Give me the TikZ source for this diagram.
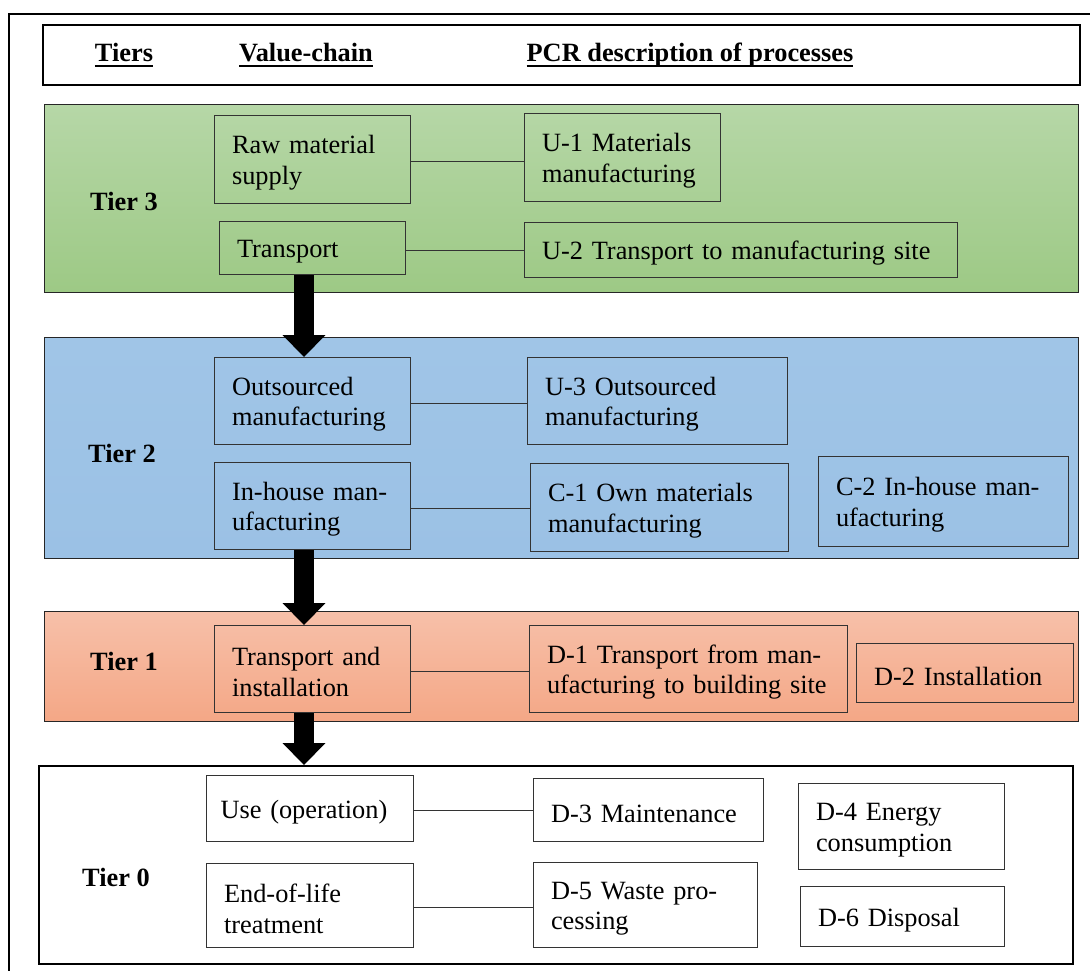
\documentclass[tikz,border=0pt]{standalone}
\usepackage{fontspec}
\setmainfont{Liberation Serif}
\usetikzlibrary{arrows.meta,positioning}

\definecolor{greentop}{RGB}{182,215,167}
\definecolor{greenbot}{RGB}{157,201,133}
\definecolor{bluetop}{RGB}{160,197,231}
\definecolor{bluebot}{RGB}{155,193,229}
\definecolor{orangetop}{RGB}{247,192,169}
\definecolor{orangebot}{RGB}{244,167,134}

% underlined heading text
\newcommand{\hdrul}[1]{\setbox0\hbox{\bfseries #1}\rlap{\rule[-3.4pt]{\wd0}{1.4pt}}\box0}

\tikzset{
	proc/.style={draw=black!80, line width=0.6pt, anchor=north west, align=left,
		inner xsep=0.35cm, inner ysep=2pt, font=\fontsize{15}{17.5}\selectfont,
		execute at begin node={\rule{0pt}{14pt}}},
	tierbox/.style={draw=black!85, line width=0.8pt, anchor=north west, inner sep=0,
		minimum width=20.68cm},
	tierlbl/.style={font=\fontsize{15}{17.5}\selectfont\bfseries},
	hdr/.style={anchor=base, font=\fontsize{15}{17.5}\selectfont},
	conn/.style={draw=black!80, line width=0.6pt, transform canvas={yshift=-1.2pt}},
	flow/.style={line width=0.42cm, -{Triangle[width=0.86cm,length=0.44cm,line width=0pt]}}
}

\begin{document}
\begin{tikzpicture}[x=0.02cm,y=-0.02cm]
		\useasboundingbox (0,0) rectangle (1090,971);
		
		% frame and heading
		\draw[line width=1.1pt] (9,971) -- (9,14) -- (1090,14);
		\node[draw, line width=1.4pt, anchor=north west, inner sep=0, minimum width=20.74cm, minimum height=1.2cm] (head) at (42,24) {};
		\node[hdr] (hTiers) at (124,61) {\hdrul{Tiers}};
		\node[hdr] (hChain) at (306,61) {\hdrul{Value-chain}};
		\node[hdr] (hPcr) at (690,61) {\hdrul{PCR description of processes}};
		
		% tiers
		\node[tierbox, top color=greentop, bottom color=greenbot, minimum height=3.76cm] (tier3) at (44,104) {};
		\node[tierbox, top color=bluetop, bottom color=bluebot, minimum height=4.42cm] (tier2) at (44,337) {};
		\node[tierbox, top color=orangetop, bottom color=orangebot, minimum height=2.2cm] (tier1) at (44,611) {};
		\node[tierbox, fill=white, line width=1.4pt, draw=black, minimum height=3.96cm] (tier0) at (38,765) {};
		
		\node[tierlbl] (lbl3) at (124,201) {Tier 3};
		\node[tierlbl] (lbl2) at (122,453) {Tier 2};
		\node[tierlbl] (lbl1) at (124,661) {Tier 1};
		\node[tierlbl] (lbl0) at (116,877) {Tier 0};
		
		% tier 3
		\node[proc, text width=3.22cm, minimum height=1.76cm] (raw) at (214,115) {Raw material\\supply};
		\node[proc, text width=3.22cm, minimum height=1.76cm] (u1) at (524,113) {U-1 Materials\\manufacturing};
		\node[proc, text width=3.02cm, minimum height=1.06cm] (trans) at (219,221) {Transport};
		\node[proc, text width=7.96cm, minimum height=1.1cm] (u2) at (524,222) {U-2 Transport to manufacturing site};
		
		% tier 2
		\node[proc, text width=3.22cm, minimum height=1.74cm] (outs) at (214,357) {Outsourced\\manufacturing};
		\node[proc, text width=4.5cm, minimum height=1.74cm] (u3) at (527,357) {U-3 Outsourced\\manufacturing};
		\node[proc, text width=3.22cm, minimum height=1.74cm] (inh) at (214,462) {In-house man-\\ufacturing};
		\node[proc, text width=4.46cm, minimum height=1.76cm] (c1) at (530,463) {C-1 Own materials\\manufacturing};
		\node[proc, text width=4.3cm, minimum height=1.8cm] (c2) at (818,456) {C-2 In-house man-\\ufacturing};
		
		% tier 1
		\node[proc, text width=3.22cm, minimum height=1.74cm] (inst) at (214,625) {Transport and\\installation};
		\node[proc, text width=5.66cm, minimum height=1.74cm] (d1) at (529,625) {D-1 Transport from man-\\ufacturing to building site};
		\node[proc, text width=3.64cm, minimum height=1.18cm] (d2) at (856,643) {D-2 Installation};
		
		% tier 0
		\node[proc, inner xsep=0.28cm, text width=3.58cm, minimum height=1.32cm] (use) at (206,775) {Use (operation)};
		\node[proc, text width=3.9cm, minimum height=1.26cm] (d3) at (533,778) {D-3 Maintenance};
		\node[proc, text width=3.42cm, minimum height=1.72cm] (d4) at (798,783) {D-4 Energy\\consumption};
		\node[proc, text width=3.44cm, minimum height=1.68cm] (eol) at (206,863) {End-of-life\\treatment};
		\node[proc, text width=3.78cm, minimum height=1.7cm] (d5) at (533,862) {D-5 Waste pro-\\cessing};
		\node[proc, text width=3.38cm, minimum height=1.2cm] (d6) at (800,886) {D-6 Disposal};
		
		% links
		\draw[conn] (raw.east) -- (raw.east -| u1.west);
		\draw[conn] (trans.east) -- (trans.east -| u2.west);
		\draw[conn] (outs.east) -- (outs.east -| u3.west);
		\draw[conn] (inh.east) -- (inh.east -| c1.west);
		\draw[conn] (inst.east) -- (inst.east -| d1.west);
		\draw[conn] (use.east) -- (use.east -| d3.west);
		\draw[conn] (eol.east) -- (eol.east -| d5.west);
		
		% flow between tiers
		\coordinate (ax) at (304,0);
		\draw[flow] (trans.south -| ax) -- (outs.north -| ax);
		\draw[flow] (inh.south -| ax) -- (inst.north -| ax);
		\draw[flow] (inst.south -| ax) -- (tier0.north -| ax);
\end{tikzpicture}
\end{document}
